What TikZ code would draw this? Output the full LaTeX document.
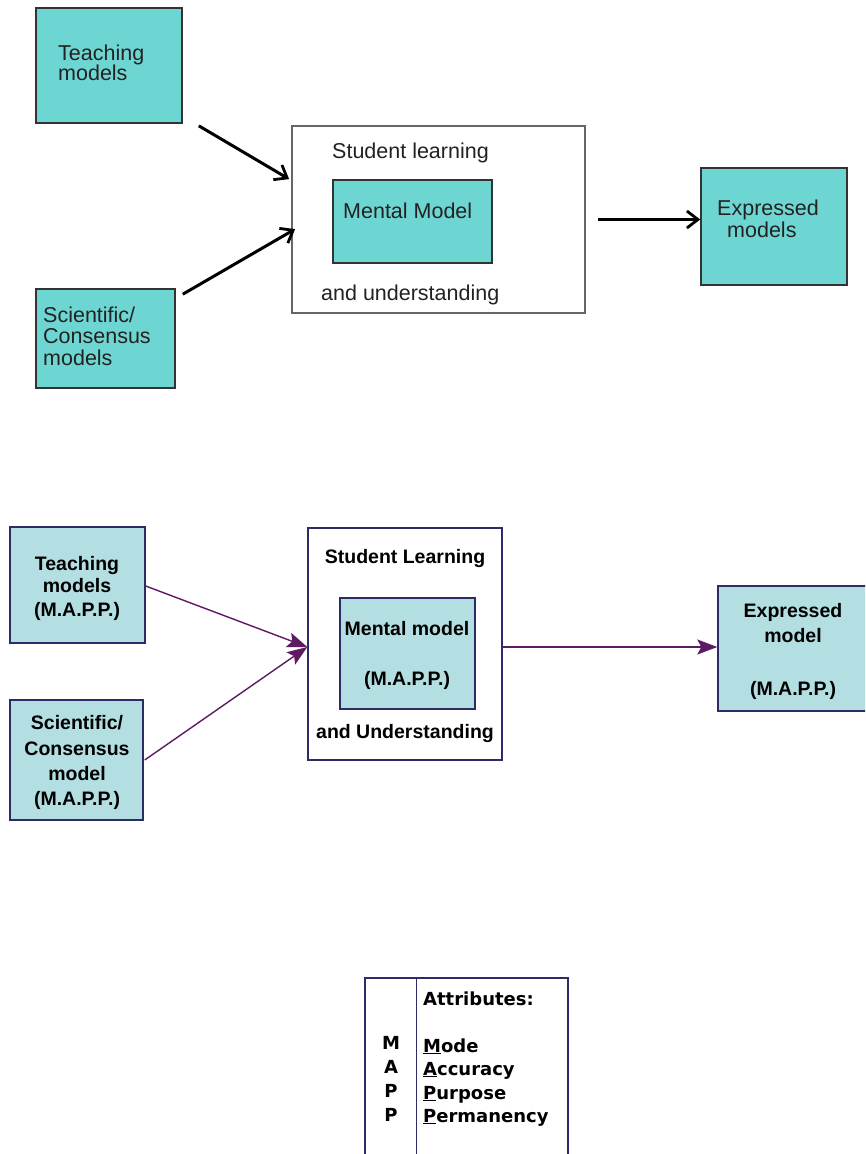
\documentclass[tikz,border=0pt]{standalone}
\usepackage{fontspec}
\setmainfont{Liberation Sans}
\newfontfamily\attrfont{DejaVu Sans}
\usetikzlibrary{arrows.meta,calc}
\definecolor{topfill}{HTML}{6ED6D2}
\definecolor{botfill}{HTML}{B3DFE2}
\definecolor{navy}{HTML}{2B2B66}
\definecolor{purp}{HTML}{5E1A63}
\definecolor{topink}{HTML}{222222}
\begin{document}
\begin{tikzpicture}[x=1pt,y=-1pt,
  topbox/.style={draw=black!80,line width=1.6pt,fill=topfill,inner sep=0pt},
  topframe/.style={draw=black!60,line width=1.8pt,fill=white,inner sep=0pt},
  botbox/.style={draw=navy,line width=1.4pt,fill=botfill,inner sep=0pt},
  botframe/.style={draw=navy,line width=1.4pt,fill=white,inner sep=0pt},
  toptxt/.style={anchor=base west,inner sep=0pt,text=topink,font=\fontsize{21.5}{24}\selectfont},
  bottxt/.style={anchor=base,inner sep=0pt,font=\fontsize{19.5}{22}\selectfont\bfseries},
  attrtxt/.style={anchor=base west,inner sep=0pt,font=\fontsize{18}{22}\selectfont\attrfont\bfseries},
  attrletter/.style={anchor=base,inner sep=0pt,font=\fontsize{18}{22}\selectfont\attrfont\bfseries},
  toparrow/.style={line width=3pt,black,-{Straight Barb[length=11pt,width=17pt,line width=2.8pt]}},
  botarrow/.style={line width=1.4pt,draw=purp,fill=purp,-{Stealth[length=20pt,width=15pt,inset=4pt]}},
]
\useasboundingbox[fill=white] (0,0) rectangle (865,1154);
\begin{scope}
\clip (0,0) rectangle (865,1154);

% ---------- top diagram ----------
\node[topbox,minimum width=146pt,minimum height=115pt] (tteach) at (109,65.5) {};
\node[topbox,minimum width=139pt,minimum height=99pt] (tsci) at (105.5,338.5) {};
\node[topframe,minimum width=293pt,minimum height=187pt] (tstud) at (438.5,219.5) {};
\node[topbox,minimum width=159pt,minimum height=83pt] (tment) at (412.5,221.5) {};
\node[topbox,minimum width=146pt,minimum height=117pt] (texp) at (774,226.5) {};

\node[toptxt] (tteach1) at (58,60) {Teaching};
\node[toptxt] (tteach2) at (58,80) {models};
\node[toptxt] (tsci1) at (43,322) {Scientific/};
\node[toptxt] (tsci2) at (43,343) {Consensus};
\node[toptxt] (tsci3) at (43,365) {models};
\node[toptxt] (tstud1) at (332,158) {Student learning};
\node[toptxt] (tment1) at (343,218) {Mental Model};
\node[toptxt] (tstud2) at (321,300) {and understanding};
\node[toptxt] (texp1) at (717,215) {Expressed};
\node[toptxt] (texp2) at (727,237) {models};

\coordinate (a1s) at ($(tteach.south east)+(16,2)$);
\coordinate (a1e) at ($(tstud.north west)+(-2,54)$);
\coordinate (a2s) at ($(tsci.north east)+(7,6)$);
\coordinate (a2e) at ($(tstud.north west)+(4,104)$);
\coordinate (a3s) at ($(tstud.east)+(12,0)$);
\draw[toparrow] (a1s) -- (a1e);
\draw[toparrow] (a2s) -- (a2e);
\draw[toparrow] (a3s) -- (a3s -| texp.west);

% ---------- bottom diagram ----------
\node[botbox,minimum width=135pt,minimum height=116pt] (bteach) at (77.5,585) {};
\node[botbox,minimum width=133pt,minimum height=120pt] (bsci) at (76.5,760) {};
\node[botframe,minimum width=194pt,minimum height=232pt] (bstud) at (405,644) {};
\node[botbox,minimum width=135pt,minimum height=111pt] (bment) at (407.5,653.5) {};
\node[botbox,minimum width=150pt,minimum height=125pt] (bexp) at (793,648.5) {};

\node[bottxt] (bteach1) at (77,570) {Teaching};
\node[bottxt] (bteach2) at (77,592) {models};
\node[bottxt] (bteach3) at (77,616) {(M.A.P.P.)};
\node[bottxt] (bsci1) at (77,729) {Scientific/};
\node[bottxt] (bsci2) at (77,755) {Consensus};
\node[bottxt] (bsci3) at (77,780) {model};
\node[bottxt] (bsci4) at (77,805) {(M.A.P.P.)};
\node[bottxt] (bstud1) at (405,563) {Student Learning};
\node[bottxt] (bment1) at (407,635) {Mental model};
\node[bottxt] (bment2) at (407,685) {(M.A.P.P.)};
\node[bottxt] (bstud2) at (405,738) {and Understanding};
\node[bottxt] (bexp1) at (793,617) {Expressed};
\node[bottxt] (bexp2) at (793,642) {model};
\node[bottxt] (bexp3) at (793,695) {(M.A.P.P.)};

\coordinate (b1s) at ($(bteach.east)+(0,1)$);
\coordinate (b2s) at ($(bsci.east)+(1,0)$);
\coordinate (bin) at ($(bstud.west)+(0,3)$);
\coordinate (b3s) at ($(bstud.east)+(0,3)$);
\draw[botarrow] (b1s) -- (bin);
\draw[botarrow] (b2s) -- (bin);
\draw[botarrow] (b3s) -- (b3s -| bexp.west);

% ---------- attributes table ----------
\node[botframe,minimum width=203pt,minimum height=200pt] (attr) at (466.5,1078) {};
\coordinate (dtop) at ($(attr.north west)+(52,0)$);
\coordinate (dbot) at ($(attr.south west)+(52,0)$);
\draw[navy,line width=1.4pt] (dtop) -- (dbot);

\node[attrletter] (lm) at (391,1049) {M};
\node[attrletter] (la) at (391,1073) {A};
\node[attrletter] (lp1) at (391,1097) {P};
\node[attrletter] (lp2) at (391,1121) {P};
\node[attrtxt] (at0) at (423,1005) {Attributes:};
\node[attrtxt] (at1) at (423,1052) {\underline{M}ode};
\node[attrtxt] (at2) at (423,1075) {\underline{A}ccuracy};
\node[attrtxt] (at3) at (423,1099) {\underline{P}urpose};
\node[attrtxt] (at4) at (423,1122) {\underline{P}ermanency};
\end{scope}
\end{tikzpicture}
\end{document}
